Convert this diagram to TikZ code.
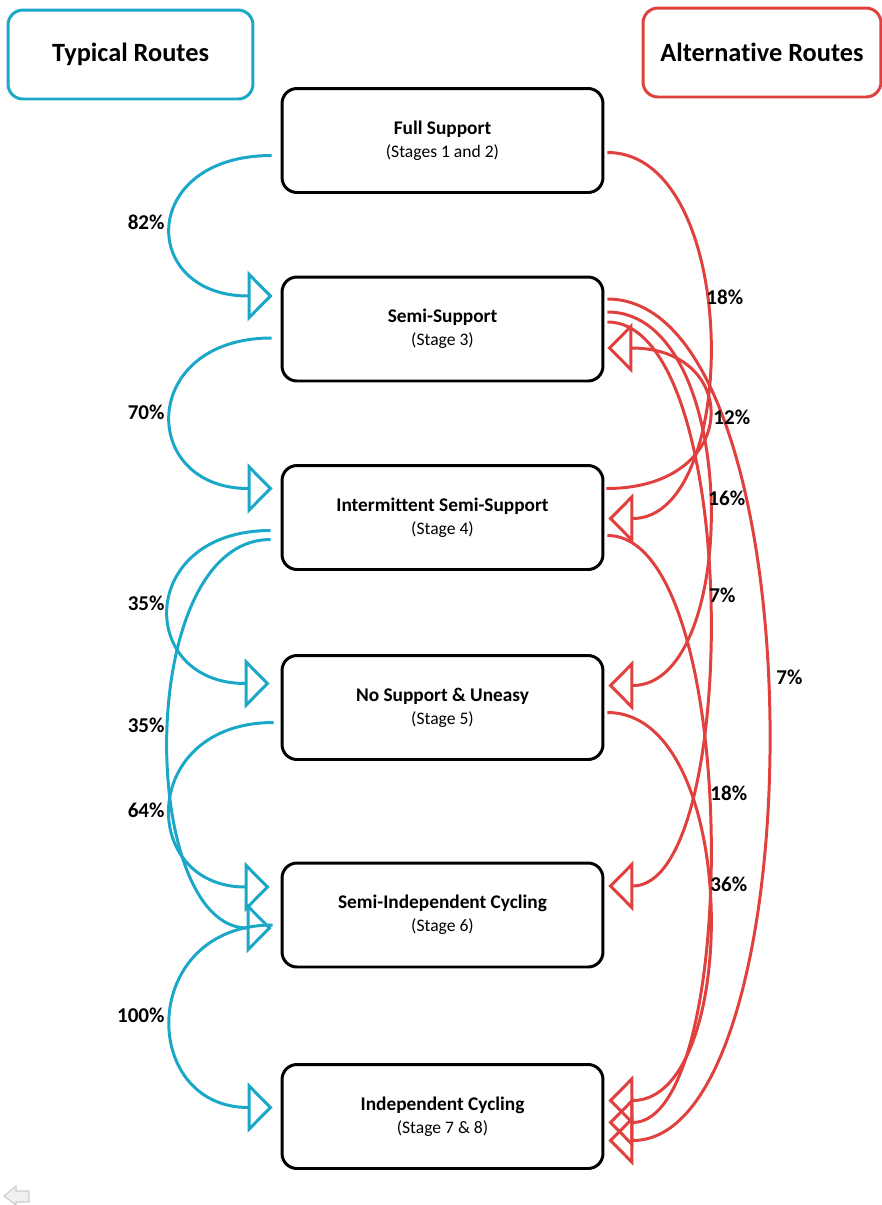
\documentclass[tikz,border=0pt]{standalone}
\usepackage{fontspec}
\setmainfont{Carlito}[Ligatures=NoCommon]
\usetikzlibrary{calc, arrows.meta}

\newcommand{\stagelbl}[2]{{\bfseries\fontsize{11}{13}\selectfont #1}\\[1pt]{\fontsize{10}{12}\selectfont #2}}

\begin{document}
\begin{tikzpicture}[
  x=0.02cm, y=-0.02cm,
  line width=1.7pt,
  >={Triangle[open, length=0.5cm, width=1cm]},
  stage/.style={draw=black, rounded corners=8.5pt, minimum width=6.42cm,
                minimum height=2.08cm, align=center, inner sep=0pt},
  routebox/.style={rounded corners=8.5pt, minimum height=1.78cm, align=center,
                   inner sep=0pt, font=\bfseries\fontsize{15}{18}\selectfont},
  typ/.style={draw=cTeal, ->},
  alt/.style={draw=cRed, ->},
  pct/.style={font=\bfseries\fontsize{12}{14}\selectfont, inner sep=0pt},
]

\definecolor{cTeal}{HTML}{1BA7C7}
\definecolor{cRed} {HTML}{E0403E}

\useasboundingbox (0,0) rectangle (882,1205);

% =====================================================================
% Headers
% =====================================================================
\node[routebox, draw=cTeal, minimum width=4.9cm]  (typical)     at (130.5,54.5) {Typical Routes};
\node[routebox, draw=cRed,  minimum width=4.76cm] (alternative) at (762,52.5)   {Alternative Routes};

% =====================================================================
% Stages
% =====================================================================
\node[stage] (fullSup)  at (442.5,140.5) {\stagelbl{Full Support}{(Stages 1 and 2)}};
\node[stage] (semiSup)  at (442.5,329)   {\stagelbl{Semi-Support}{(Stage 3)}};
\node[stage] (interSup) at (442.5,517.5) {\stagelbl{Intermittent Semi-Support}{(Stage 4)}};
\node[stage] (noSup)    at (442.5,707.5) {\stagelbl{No Support \& Uneasy}{(Stage 5)}};
\node[stage] (semiInd)  at (442.5,915)   {\stagelbl{Semi-Independent Cycling}{(Stage 6)}};
\node[stage] (indCyc)   at (442.5,1116.5){\stagelbl{Independent Cycling}{(Stage 7 \& 8)}};

% =====================================================================
% Typical routes (left)
% =====================================================================
\draw[typ] ($(fullSup.west)+(-9,15)$)  .. controls +(-133,0) and +(-134,0) .. ($(semiSup.west)+(-8,-33)$);
\draw[typ] ($(semiSup.west)+(-9,9)$)   .. controls +(-133,0) and +(-134,0) .. ($(interSup.west)+(-8,-29)$);
\draw[typ] ($(interSup.west)+(-10,13)$) .. controls +(-134,0) and +(-133,0) .. ($(noSup.west)+(-11,-24)$);
\draw[typ] ($(interSup.west)+(-10,22)$) .. controls +(-137,0) and +(-133,0) .. ($(semiInd.west)+(-9,13)$);
\draw[typ] ($(noSup.west)+(-7,15)$)    .. controls +(-135,0) and +(-131,0) .. ($(semiInd.west)+(-11,-28)$);
\draw[typ] ($(semiInd.west)+(-8,10)$)  .. controls +(-134,0) and +(-134,0) .. ($(indCyc.west)+(-8,-9)$);

\node[pct, anchor=east] (p82)  at (166,222)  {82\%};
\node[pct, anchor=east] (p70)  at (166,412)  {70\%};
\node[pct, anchor=east] (p35a) at (166,603)  {35\%};
\node[pct, anchor=east] (p35b) at (166,725)  {35\%};
\node[pct, anchor=east] (p64)  at (166,810)  {64\%};
\node[pct, anchor=east] (p100) at (166,1015) {100\%};

% =====================================================================
% Alternative routes (right)
% =====================================================================
\draw[alt] ($(fullSup.east)+(3,12)$)   .. controls +(134,0) and +(133,0) .. ($(interSup.east)+(4,1)$);
\draw[alt] ($(interSup.east)+(2,-29)$) .. controls +(135,0) and +(134,0) .. ($(semiSup.east)+(3,19)$);
\draw[alt] ($(semiSup.east)+(3,-17)$)  .. controls +(134,0) and +(133,0) .. ($(noSup.east)+(4,-22)$);
\draw[alt] ($(semiSup.east)+(3,-7)$)   .. controls +(134,0) and +(133,0) .. ($(semiInd.east)+(4,-29)$);
\draw[alt] ($(semiSup.east)+(3,-30)$)  .. controls +(214,0) and +(210,0) .. ($(indCyc.east)+(4,24)$);
\draw[alt] ($(interSup.east)+(3,18)$)  .. controls +(134,0) and +(133,0) .. ($(indCyc.east)+(4,6)$);
\draw[alt] ($(noSup.east)+(3,5)$)      .. controls +(134,0) and +(133,0) .. ($(indCyc.east)+(4,-16)$);

\node[pct, anchor=west] (p18a) at (705,297) {18\%};
\node[pct, anchor=west] (p12)  at (712,417) {12\%};
\node[pct, anchor=west] (p16)  at (707,498) {16\%};
\node[pct, anchor=west] (p7a)  at (708,595) {7\%};
\node[pct, anchor=west] (p7b)  at (775,677) {7\%};
\node[pct, anchor=west] (p18b) at (709,793) {18\%};
\node[pct, anchor=west] (p36)  at (709,884) {36\%};

% back icon, bottom left
\filldraw[fill=gray!12, draw=gray!40, line width=0.6pt]
  (4,1196) -- (16,1186) -- (16,1191) -- (29,1191) -- (29,1202) -- (16,1202) -- (16,1205) -- cycle;

\end{tikzpicture}
\end{document}
